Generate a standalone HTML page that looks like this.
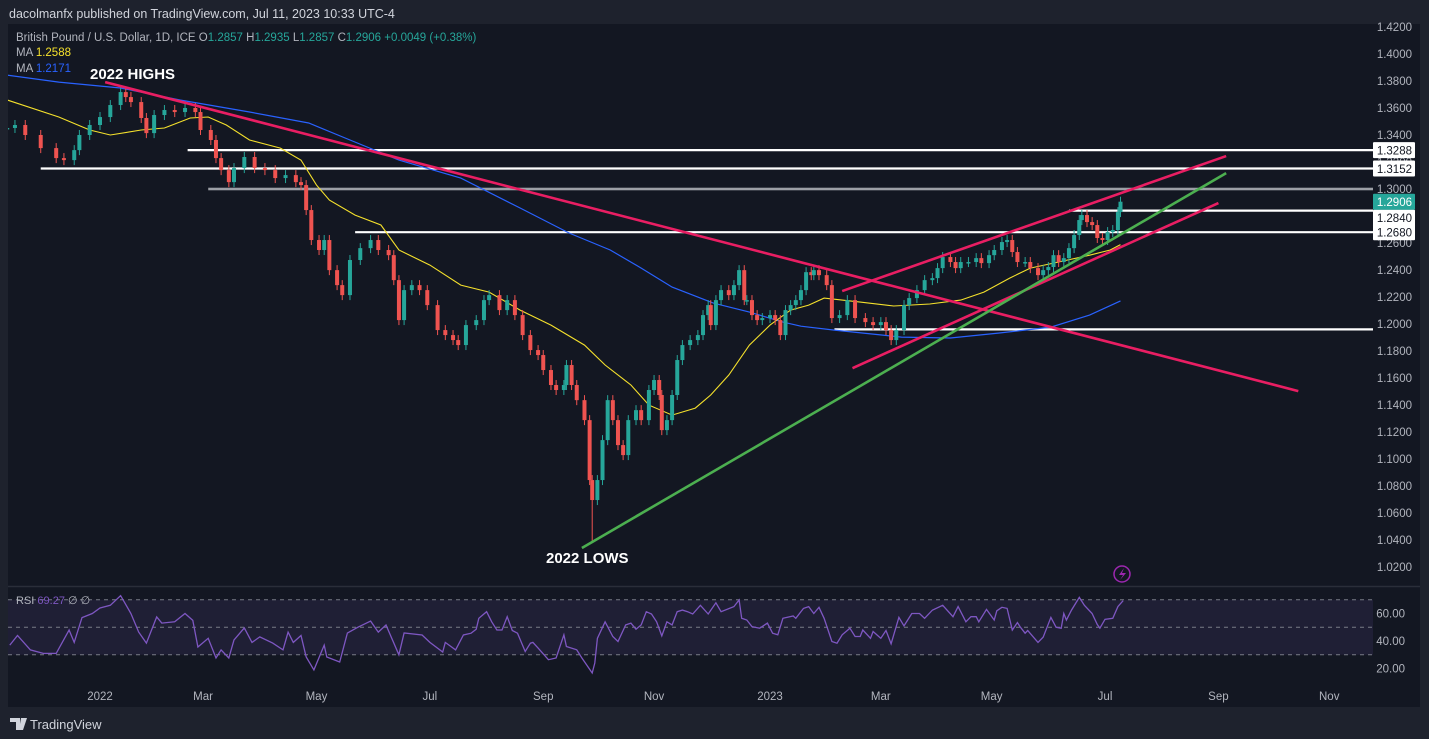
<!DOCTYPE html>
<html><head><meta charset="utf-8"><style>
html,body{margin:0;padding:0;background:#1e222d;}
svg{display:block;font-family:"Liberation Sans",sans-serif;}
</style></head><body>
<svg id="c" width="1429" height="739" viewBox="0 0 1429 739" xmlns="http://www.w3.org/2000/svg">
<rect x="0" y="0" width="1429" height="739" fill="#1e222d"/>
<text x="9" y="18" fill="#d1d4dc" font-size="12.5">dacolmanfx published on TradingView.com, Jul 11, 2023 10:33 UTC-4</text>
<rect x="8" y="24" width="1412" height="683" fill="#131722"/>
<line x1="8" y1="586.5" x2="1420" y2="586.5" stroke="#2a2e39" stroke-width="1.5"/>
<g id="main"></g>
<g id="rsi"></g>
<g id="axes"></g>
<text x="16" y="41" font-size="11.5" fill="#b2b5be">British Pound / U.S. Dollar, 1D, ICE  O<tspan fill="#26a69a">1.2857</tspan>  H<tspan fill="#26a69a">1.2935</tspan>  L<tspan fill="#26a69a">1.2857</tspan>  C<tspan fill="#26a69a">1.2906</tspan>  <tspan fill="#26a69a">+0.0049 (+0.38%)</tspan></text>
<text x="16" y="56" font-size="11.5" fill="#b2b5be">MA  <tspan fill="#f5e12c">1.2588</tspan></text>
<text x="16" y="72" font-size="11.5" fill="#b2b5be">MA  <tspan fill="#2962ff">1.2171</tspan></text>
<text x="90" y="79" font-size="15" font-weight="bold" fill="#ffffff">2022 HIGHS</text>
<text x="546" y="563" font-size="15" font-weight="bold" fill="#ffffff">2022 LOWS</text>
<g><circle cx="1122" cy="574" r="8" fill="none" stroke="#9c27b0" stroke-width="1.5"/><path d="M1124 568 L1119 575 L1123 575 L1120 580 L1126 573 L1122 573 Z" fill="#9c27b0"/></g>
<text x="16" y="604" font-size="11" fill="#b2b5be">RSI  <tspan fill="#7e57c2">69.27</tspan>  ∅  ∅</text>
<g><path d="M10 718 H20 V730 H16 V722 H10 Z M21 718 H27 L23 730 H19 Z" fill="#d1d4dc"/><text x="30" y="729" font-size="13" fill="#d1d4dc">TradingView</text></g>
</svg>
<script>
const candleDays=[-36,-33,-29,-23,-17,-14,-10,-8,-4,0,4,8,10,12,16,18,21,25,29,33,37,39,43,45,47,50,52,56,60,64,68,72,76,78,80,82,85,87,89,92,94,97,101,105,108,112,114,116,118,121,124,127,131,134,137,139,142,146,149,151,155,158,161,164,167,170,172,175,177,180,181,183,185,188,190,191,193,195,197,199,201,203,205,208,210,213,215,217,218,220,222,224,226,229,232,234,236,237,239,241,244,246,248,250,251,253,255,257,260,262,264,266,268,270,272,274,276,277,279,282,284,287,290,293,297,300,303,305,307,309,312,314,317,320,323,325,327,330,332,334,337,340,342,345,347,350,352,354,356,359,361,364,366,368,370,372,374,376,378,380,381,383,385,387,389,391,393,395,396];
const candleCloses=[1.3452,1.3474,1.3400,1.3303,1.3229,1.3214,1.3288,1.3400,1.3474,1.3533,1.3622,1.3718,1.3681,1.3644,1.3526,1.3414,1.3548,1.3585,1.3570,1.3600,1.3570,1.3437,1.3363,1.3229,1.3140,1.3051,1.3155,1.3237,1.3155,1.3140,1.3081,1.3103,1.3051,1.3029,1.2844,1.2622,1.2548,1.2622,1.2399,1.2288,1.2214,1.2474,1.2562,1.2622,1.2548,1.2510,1.2325,1.2029,1.2251,1.2288,1.2251,1.2140,1.1955,1.1918,1.1881,1.1844,1.1992,1.2029,1.2177,1.2214,1.2103,1.2177,1.2066,1.1918,1.1807,1.1770,1.1659,1.1548,1.1511,1.1548,1.1696,1.1548,1.1436,1.1288,1.0844,1.0696,1.0844,1.1140,1.1436,1.1288,1.1103,1.1029,1.1288,1.1362,1.1288,1.1511,1.1585,1.1474,1.1214,1.1288,1.1474,1.1733,1.1844,1.1881,1.1918,1.2066,1.2140,1.1992,1.2177,1.2251,1.2214,1.2288,1.2399,1.2177,1.2177,1.2066,1.2029,1.2044,1.2066,1.2029,1.1918,1.2103,1.2140,1.2177,1.2251,1.2384,1.2362,1.2399,1.2362,1.2288,1.2044,1.2066,1.2177,1.2044,1.2014,1.1992,1.2014,1.1955,1.1881,1.1955,1.2140,1.2192,1.2251,1.2325,1.2340,1.2414,1.2496,1.2459,1.2414,1.2459,1.2459,1.2488,1.2451,1.2510,1.2548,1.2607,1.2622,1.2533,1.2459,1.2459,1.2414,1.2362,1.2399,1.2422,1.2510,1.2459,1.2488,1.2562,1.2659,1.2770,1.2807,1.2755,1.2733,1.2637,1.2622,1.2681,1.2696,1.2829,1.2906];
const lowDays=[191];
const lowValues=[1.0378];
const ma50Days=[-36,-16,-4,4,16,25,35,42,49,58,70,78,84,89,99,109,116,128,140,151,163,175,188,196,206,213,222,231,237,244,252,260,268,275,281,295,308,322,334,343,353,361,372,384,392,396];
const ma50Vals=[1.3659,1.3533,1.3437,1.3400,1.3437,1.3452,1.3526,1.3533,1.3474,1.3363,1.3303,1.3214,1.3029,1.2918,1.2807,1.2733,1.2548,1.2436,1.2288,1.2236,1.2103,1.1992,1.1844,1.1696,1.1548,1.1399,1.1325,1.1377,1.1474,1.1622,1.1844,1.1992,1.2103,1.2140,1.2192,1.2162,1.2133,1.2148,1.2177,1.2236,1.2340,1.2414,1.2459,1.2510,1.2548,1.2588];
const ma200Days=[-36,-16,8,31,58,81,97,116,140,163,182,198,210,222,238,252,265,272,285,311,330,349,369,384,396];
const ma200Vals=[1.3844,1.3792,1.3748,1.3659,1.3570,1.3489,1.3363,1.3214,1.3081,1.2859,1.2674,1.2548,1.2414,1.2273,1.2155,1.2088,1.2014,1.1984,1.1955,1.1903,1.1896,1.1933,1.1977,1.2066,1.2171];
const rsiDays=[-35,-32,-27,-22,-17,-12,-10,-7,-3,0,4,8,12,15,18,22,24,29,33,36,38,42,45,47,50,52,56,59,62,67,71,73,75,78,80,83,87,88,93,96,100,105,108,111,116,118,125,128,133,134,138,141,144,146,147,150,152,154,156,158,160,162,165,167,168,170,174,177,180,181,185,187,191,192,193,196,199,201,204,206,208,210,212,214,216,218,220,222,224,226,228,230,233,236,239,241,246,248,249,251,253,256,259,261,263,265,269,270,273,275,277,279,281,284,286,288,291,293,295,296,299,300,303,305,307,310,312,315,318,320,323,327,331,333,336,338,340,341,344,347,348,350,352,354,356,357,359,360,364,366,369,371,373,374,375,377,380,382,385,387,388,390,393,395,397];
const rsiVals=[37,44,33.5,31,31,48,39,57,60,64,66,73,60,46.5,38.5,57.5,53,54,60,55,35.6,42,27.6,33.5,27.6,40.7,49.5,39,43,38.5,33.5,46.5,39,44,28.4,19,37,28.4,24.7,45.8,50,54.5,46.5,51.6,30,45.8,44.4,39,32,39,33.5,44.4,45.7,48.5,56.5,61.3,54,48,48,57.7,47.6,45.7,32.4,38.4,39,34.8,26.4,27.6,44.5,36,33.6,27.6,16.7,24,42,54,43.3,39.6,51.7,53,48.6,51.7,61.3,59.6,54,43.7,54,51.7,61.3,62.5,61.3,59.6,66,59.6,67.8,61.3,65,69.8,56.5,55.3,50.5,49.3,53,45.7,44.5,56.5,58.2,56.5,63.7,65,60,64.5,56.5,39.6,38.4,44.5,49.3,43.3,43.3,48,42,46.9,42,47.6,38,57.2,51,60,60,56.5,62.5,66,57.7,65,54,57.7,57.7,54,63,55.3,62,64.5,63.7,48,53.4,50.5,45.7,47.6,39,42.8,57.2,50,49.3,60,55.3,62.5,71.7,66,60,52,49.3,55.8,56.5,65,69.3];
const priceTicks=["1.4200","1.4000","1.3800","1.3600","1.3400","1.3200","1.3000","1.2800","1.2600","1.2400","1.2200","1.2000","1.1800","1.1600","1.1400","1.1200","1.1000","1.0800","1.0600","1.0400","1.0200"];
const rsiTicks=[60,40,20];
const timeLabels=["2022","Mar","May","Jul","Sep","Nov","2023","Mar","May","Jul","Sep","Nov"];
const timeDays=[0,40,84,128,172,215,260,303,346,390,434,477];
const hLevels=[1.3288,1.3152,1.2840,1.2680,1.1960];
const hStartDays=[34,-23,376,99,285];
const grayLevels=[1.2995,1.3005];
const grayStartDays=[42,42];
const trendDays=[[2,465],[288,437],[292,434],[187,437]];
const trendVals=[[1.3792,1.1503],[1.2244,1.3244],[1.1673,1.2896],[1.0341,1.3118]];
const trendColors=["#e91e63","#e91e63","#e91e63","#4caf50"];

const NS="http://www.w3.org/2000/svg";
const X=d=>100+d*2.577;
const Y=p=>27+(1.42-p)*1350;
const RY=v=>641-(v-40)*1.375;
const AXR=1373;
function mk(tag,attrs,parent){const e=document.createElementNS(NS,tag);for(const k in attrs)e.setAttribute(k,attrs[k]);parent.appendChild(e);return e;}
const main=document.getElementById('main'),rsi=document.getElementById('rsi'),axes=document.getElementById('axes');
const defs=mk('defs',{},main);
const cp=mk('clipPath',{id:'cp'},defs);mk('rect',{x:8,y:24,width:AXR-8,height:562},cp);
const g=mk('g',{'clip-path':'url(#cp)'},main);

hLevels.forEach((v,i)=>{const l=mk('line',{x1:X(hStartDays[i]),x2:AXR,y1:Y(v),y2:Y(v),stroke:'#ffffff','stroke-width':2.2},g);

});
grayLevels.forEach((v,i)=>{const l=mk('line',{x1:X(grayStartDays[i]),x2:AXR,y1:Y(v),y2:Y(v),stroke:'#b0b3ba','stroke-width':1.2},g);

});

function poly(days,vals,color,w,name){const pts=days.map((d,i)=>X(d).toFixed(1)+','+Y(vals[i]).toFixed(1)).join(' ');
const p=mk('polyline',{points:pts,fill:'none',stroke:color,'stroke-width':w},g);

}
poly(ma200Days,ma200Vals,'#2962ff',1.2,'ma200-line');
poly(ma50Days,ma50Vals,'#f5e12c',1.1,'ma50-line');

candleDays.forEach((d,i)=>{const c=candleCloses[i];const o=i>0?candleCloses[i-1]:c;
const up=c>=o;const col=up?'#26a69a':'#ef5350';const x=X(d);
let lo=Math.min(o,c),hi=Math.max(o,c);
const li=lowDays.indexOf(d);
const yl=li>=0?Y(lowValues[li]):Y(lo)+5;
const w=mk('line',{x1:x,x2:x,y1:Y(hi)-5,y2:yl,stroke:col,'stroke-width':1},g);


const r=mk('rect',{x:x-2,y:Y(hi),width:4,height:Math.max(1.5,Y(lo)-Y(hi)),fill:col},g);

});

trendDays.forEach((dd,i)=>{const l=mk('line',{x1:X(dd[0]),x2:X(dd[1]),y1:Y(trendVals[i][0]),y2:Y(trendVals[i][1]),stroke:trendColors[i],'stroke-width':2.6},g);

});

priceTicks.forEach(t=>{const y=Y(parseFloat(t));const tx=mk('text',{x:1412,y:y+4,'text-anchor':'end','font-size':11.5,fill:'#b2b5be'},axes);tx.textContent=t;

});
function box(v,bg,fg,name,shift){const y=Y(v)+shift;const r=mk('rect',{x:AXR,y:y-8,width:42,height:16,fill:bg,rx:1},axes);


const t=mk('text',{x:1412,y:y+4.5,'text-anchor':'end','font-size':11.5,fill:fg},axes);t.textContent=v.toFixed(4);

}
const labelShift=[0,0,7,0];
hLevels.slice(0,4).forEach((v,i)=>box(v,'#ffffff','#131722','level-label',labelShift[i]));
box(1.2906,'#26a69a','#ffffff','last-price-label',0);

const band=mk('rect',{x:8,y:RY(70),width:AXR-8,height:RY(30)-RY(70),fill:'#7e57c2','fill-opacity':0.12},rsi);


[70,50,30].forEach(v=>{const l=mk('line',{x1:8,x2:AXR,y1:RY(v),y2:RY(v),stroke:'#787b86','stroke-dasharray':'4,4','stroke-width':1},rsi);

});
const rp=mk('polyline',{points:rsiDays.map((d,i)=>X(d).toFixed(1)+','+RY(rsiVals[i]).toFixed(1)).join(' '),fill:'none',stroke:'#7e57c2','stroke-width':1.3},rsi);


rsiTicks.forEach(v=>{const t=mk('text',{x:1405,y:RY(v)+4,'text-anchor':'end','font-size':11.5,fill:'#b2b5be'},axes);t.textContent=v.toFixed(2);

});
timeLabels.forEach((s,i)=>{const t=mk('text',{x:X(timeDays[i]),y:700,'text-anchor':'middle','font-size':11.5,fill:'#b2b5be'},axes);t.textContent=s;

});
</script>
</body></html>
